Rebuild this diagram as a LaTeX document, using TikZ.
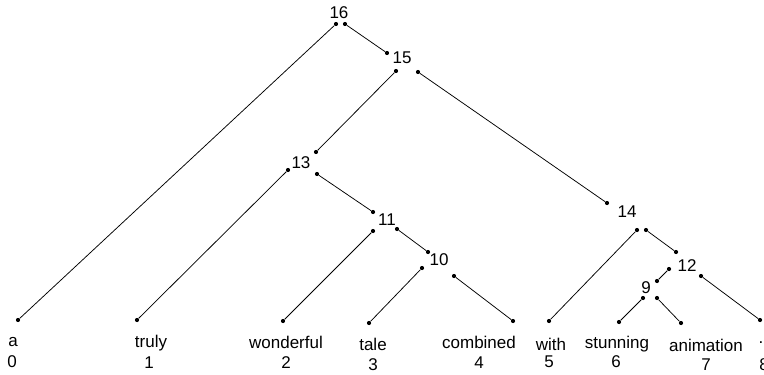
\documentclass[tikz,border=0pt]{standalone}
\usepackage{fontspec}
\setmainfont{Liberation Sans}
\begin{document}
\begin{tikzpicture}[x=1pt,y=-1pt,
  lbl/.style={inner sep=0pt,font=\fontsize{17}{20}\selectfont},
  dot/.style={circle,fill=black,inner sep=0pt,minimum size=4.2pt},
  edge/.style={line width=0.75pt}]
\useasboundingbox (0,0) rectangle (764,375);
% internal node labels
\node[lbl] (n16) at (339,13) {16};
\node[lbl] (n15) at (402,58) {15};
\node[lbl] (n13) at (301,163) {13};
\node[lbl] (n11) at (387,220) {11};
\node[lbl] (n10) at (439,260) {10};
\node[lbl] (n14) at (627,212) {14};
\node[lbl] (n12) at (687,266) {12};
\node[lbl] (n9)  at (646,288) {9};
% attachment dots of internal nodes: i = from parent, l/r = to children
\node[dot] (n16l) at (336,24) {};
\node[dot] (n16r) at (345,24) {};
\node[dot] (n15i) at (387,53) {};
\node[dot] (n15l) at (396,71) {};
\node[dot] (n15r) at (418,72) {};
\node[dot] (n13i) at (316,152) {};
\node[dot] (n13l) at (288,170) {};
\node[dot] (n13r) at (317,174) {};
\node[dot] (n11i) at (373,212) {};
\node[dot] (n11l) at (373,231) {};
\node[dot] (n11r) at (397,229) {};
\node[dot] (n10i) at (428,252) {};
\node[dot] (n10l) at (422,268) {};
\node[dot] (n10r) at (454,276) {};
\node[dot] (n14i) at (607,203) {};
\node[dot] (n14l) at (637,230) {};
\node[dot] (n14r) at (646,230) {};
\node[dot] (n12i) at (676,252) {};
\node[dot] (n12l) at (669,269) {};
\node[dot] (n12r) at (701,276) {};
\node[dot] (n9i)  at (657,281) {};
\node[dot] (n9l)  at (643,298) {};
\node[dot] (n9r)  at (657,298) {};
% leaf dots
\node[dot] (d0) at (18,320) {};
\node[dot] (d1) at (137,320) {};
\node[dot] (d2) at (283,321) {};
\node[dot] (d3) at (369,323) {};
\node[dot] (d4) at (513,321) {};
\node[dot] (d5) at (549,321) {};
\node[dot] (d6) at (619,322) {};
\node[dot] (d7) at (681,323) {};
\node[dot] (d8) at (760,320) {};
% words and indices
\node[lbl] (w0) at (13,342) {a};
\node[lbl] (i0) at (12,362) {0};
\node[lbl] (w1) at (151,343) {truly};
\node[lbl] (i1) at (149,363) {1};
\node[lbl] (w2) at (286,342) {wonderful};
\node[lbl] (i2) at (286,363) {2};
\node[lbl] (w3) at (373,344) {tale};
\node[lbl] (i3) at (373,365) {3};
\node[lbl] (w4) at (479,342) {combined};
\node[lbl] (i4) at (479,363) {4};
\node[lbl] (w5) at (551,344) {with};
\node[lbl] (i5) at (549,362) {5};
\node[lbl] (w6) at (617,344) {stunning};
\node[lbl] (i6) at (616,362) {6};
\node[lbl] (w7) at (706,345) {animation};
\node[lbl] (i7) at (706,365) {7};
\node[lbl] (w8) at (761,343) {.};
\node[lbl] (i8) at (764,365) {8};
% connectors
\draw[edge] (n16l) -- (d0);
\draw[edge] (n16r) -- (n15i);
\draw[edge] (n15l) -- (n13i);
\draw[edge] (n15r) -- (n14i);
\draw[edge] (n13l) -- (d1);
\draw[edge] (n13r) -- (n11i);
\draw[edge] (n11l) -- (d2);
\draw[edge] (n11r) -- (n10i);
\draw[edge] (n10l) -- (d3);
\draw[edge] (n10r) -- (d4);
\draw[edge] (n14l) -- (d5);
\draw[edge] (n14r) -- (n12i);
\draw[edge] (n12l) -- (n9i);
\draw[edge] (n12r) -- (d8);
\draw[edge] (n9l) -- (d6);
\draw[edge] (n9r) -- (d7);
\end{tikzpicture}
\end{document}
